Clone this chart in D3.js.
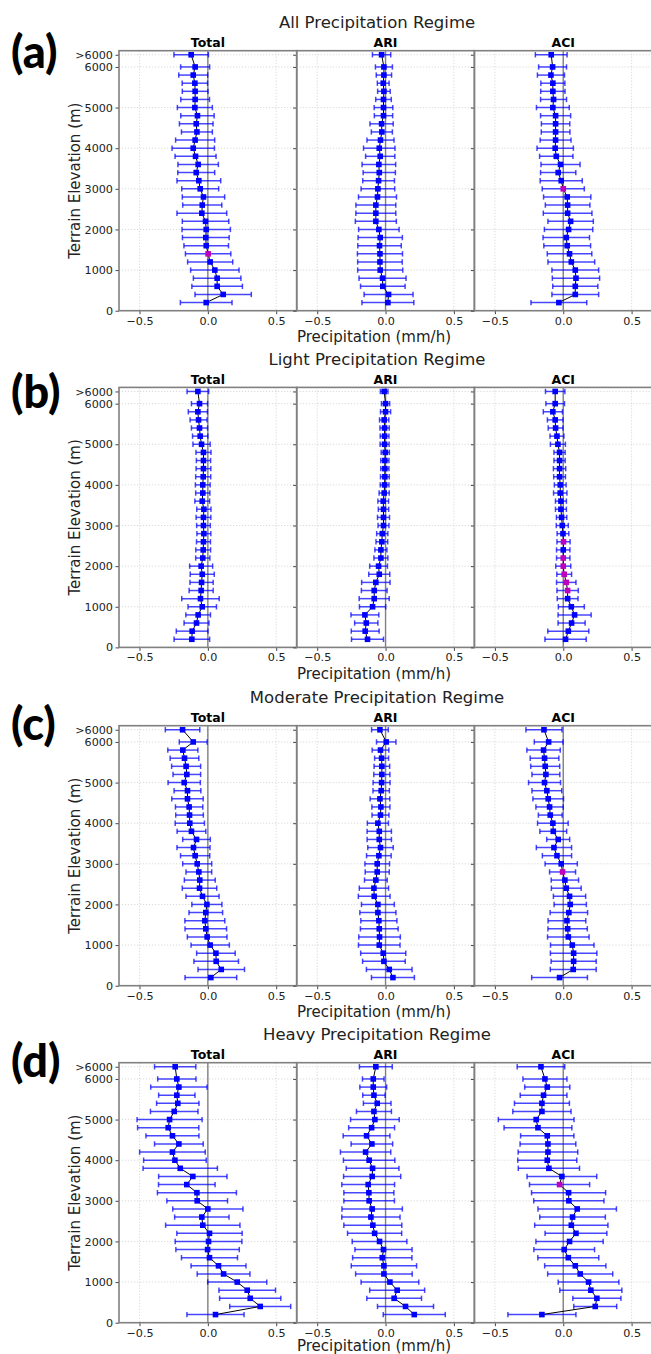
<!DOCTYPE html>
<html><head><meta charset="utf-8">
<script src="https://cdn.jsdelivr.net/npm/d3@7"></script>
<style>
html,body{margin:0;padding:0;background:#fff;}
svg{display:block;}
</style></head>
<body>
<script>
// ---------------- DATA ----------------
const elevations = [6300,6000,5800,5600,5400,5200,5000,4800,4600,4400,4200,4000,3800,3600,3400,3200,3000,2800,2600,2400,2200,2000,1800,1600,1400,1200,1000,800,600,400,200];
const yTickValues = [0,1000,2000,3000,4000,5000,6000,6300];
const yTickLabels = ["0","1000","2000","3000","4000","5000","6000",">6000"];
const xTickValues = [-0.5,0,0.5];
const regimeTitles = ["All Precipitation Regime","Light Precipitation Regime","Moderate Precipitation Regime","Heavy Precipitation Regime"];
const panelLetters = ["(a)","(b)","(c)","(d)"];
const components = ["Total","ARI","ACI"];

const allTotalMean = [-0.122,-0.093,-0.107,-0.095,-0.093,-0.093,-0.095,-0.076,-0.085,-0.080,-0.093,-0.107,-0.090,-0.071,-0.085,-0.066,-0.056,-0.032,-0.041,-0.044,-0.017,-0.012,-0.015,-0.012,0.002,0.017,0.051,0.068,0.068,0.112,-0.012];
const allTotalErr  = [0.126,0.106,0.106,0.093,0.094,0.105,0.128,0.122,0.123,0.113,0.143,0.155,0.150,0.148,0.135,0.160,0.135,0.155,0.143,0.182,0.170,0.177,0.171,0.163,0.166,0.165,0.177,0.174,0.185,0.206,0.189];
const allAriMean   = [-0.029,-0.012,-0.012,-0.017,-0.012,-0.015,-0.015,-0.015,-0.029,-0.027,-0.037,-0.046,-0.039,-0.049,-0.046,-0.051,-0.056,-0.059,-0.071,-0.071,-0.071,-0.049,-0.039,-0.044,-0.041,-0.041,-0.039,-0.022,-0.020,0.022,0.017];
const allAriErr    = [0.067,0.062,0.056,0.043,0.046,0.057,0.068,0.067,0.085,0.077,0.099,0.115,0.107,0.123,0.118,0.116,0.123,0.139,0.146,0.146,0.150,0.148,0.162,0.159,0.165,0.163,0.165,0.172,0.163,0.179,0.190];
const allAciMean   = [-0.088,-0.078,-0.090,-0.076,-0.076,-0.071,-0.076,-0.056,-0.056,-0.056,-0.056,-0.059,-0.051,-0.020,-0.037,-0.015,0.000,0.029,0.032,0.032,0.054,0.039,0.022,0.029,0.046,0.059,0.088,0.093,0.088,0.088,-0.032];
const allAciErr    = [0.116,0.102,0.099,0.088,0.089,0.095,0.120,0.110,0.104,0.105,0.113,0.133,0.122,0.143,0.129,0.154,0.154,0.173,0.163,0.178,0.166,0.177,0.170,0.171,0.163,0.171,0.171,0.173,0.165,0.171,0.204];

const lightTotalMean = [-0.073,-0.061,-0.073,-0.068,-0.061,-0.056,-0.046,-0.032,-0.032,-0.032,-0.034,-0.037,-0.037,-0.041,-0.029,-0.032,-0.032,-0.029,-0.032,-0.034,-0.037,-0.049,-0.041,-0.046,-0.049,-0.054,-0.041,-0.071,-0.083,-0.115,-0.117];
const lightTotalErr  = [0.079,0.059,0.070,0.062,0.059,0.056,0.063,0.055,0.052,0.054,0.055,0.054,0.052,0.054,0.052,0.054,0.050,0.051,0.051,0.054,0.052,0.084,0.088,0.085,0.088,0.137,0.104,0.090,0.091,0.116,0.130];
const lightAriMean   = [-0.010,0.000,0.000,-0.010,-0.007,-0.007,-0.007,-0.002,-0.005,-0.005,-0.005,-0.007,-0.010,-0.017,-0.015,-0.015,-0.015,-0.024,-0.027,-0.034,-0.034,-0.051,-0.046,-0.071,-0.083,-0.083,-0.095,-0.151,-0.141,-0.149,-0.132];
const lightAriErr    = [0.028,0.030,0.037,0.034,0.034,0.032,0.033,0.030,0.030,0.030,0.032,0.032,0.037,0.039,0.038,0.044,0.040,0.041,0.043,0.044,0.051,0.065,0.077,0.104,0.094,0.110,0.096,0.102,0.085,0.102,0.117];
const lightAciMean   = [-0.059,-0.059,-0.076,-0.059,-0.056,-0.046,-0.039,-0.027,-0.027,-0.027,-0.027,-0.022,-0.022,-0.017,-0.017,-0.012,-0.007,-0.002,0.002,0.000,0.000,0.000,0.007,0.022,0.032,0.032,0.059,0.083,0.061,0.037,0.017];
const lightAciErr    = [0.071,0.068,0.070,0.057,0.054,0.051,0.055,0.041,0.041,0.045,0.043,0.043,0.049,0.040,0.040,0.038,0.044,0.043,0.048,0.049,0.049,0.055,0.054,0.071,0.078,0.076,0.095,0.121,0.099,0.150,0.151];

const modTotalMean = [-0.185,-0.107,-0.183,-0.171,-0.159,-0.154,-0.173,-0.149,-0.149,-0.137,-0.134,-0.132,-0.120,-0.083,-0.105,-0.093,-0.078,-0.066,-0.059,-0.061,-0.039,-0.007,-0.015,-0.022,-0.015,-0.005,0.017,0.059,0.061,0.098,0.022];
const modTotalErr  = [0.126,0.102,0.110,0.105,0.106,0.101,0.118,0.098,0.115,0.100,0.101,0.107,0.105,0.101,0.121,0.107,0.106,0.094,0.113,0.126,0.121,0.110,0.123,0.146,0.152,0.145,0.140,0.141,0.163,0.170,0.189];
const modAriMean   = [-0.041,0.005,-0.037,-0.029,-0.027,-0.027,-0.029,-0.032,-0.041,-0.034,-0.037,-0.056,-0.046,-0.046,-0.037,-0.049,-0.061,-0.061,-0.071,-0.085,-0.083,-0.056,-0.056,-0.049,-0.046,-0.044,-0.046,-0.017,-0.012,0.027,0.054];
const modAriErr    = [0.061,0.071,0.061,0.051,0.057,0.059,0.062,0.060,0.072,0.066,0.062,0.077,0.089,0.089,0.093,0.090,0.090,0.088,0.083,0.107,0.116,0.120,0.132,0.132,0.138,0.152,0.152,0.165,0.156,0.167,0.157];
const modAciMean   = [-0.141,-0.107,-0.144,-0.137,-0.132,-0.127,-0.137,-0.120,-0.110,-0.100,-0.095,-0.076,-0.073,-0.037,-0.068,-0.046,-0.015,-0.005,0.012,0.022,0.046,0.051,0.041,0.027,0.032,0.037,0.066,0.076,0.076,0.073,-0.027];
const modAciErr    = [0.132,0.105,0.122,0.105,0.106,0.102,0.117,0.109,0.112,0.100,0.087,0.112,0.098,0.084,0.129,0.107,0.118,0.095,0.100,0.109,0.118,0.118,0.137,0.138,0.144,0.152,0.159,0.170,0.165,0.168,0.204];

const heavyTotalMean = [-0.239,-0.227,-0.212,-0.227,-0.220,-0.246,-0.280,-0.290,-0.259,-0.212,-0.259,-0.241,-0.202,-0.110,-0.154,-0.080,-0.078,0.000,-0.044,-0.037,0.012,0.005,-0.002,0.012,0.078,0.115,0.215,0.288,0.310,0.383,0.056];
const heavyTotalErr  = [0.151,0.140,0.206,0.133,0.155,0.174,0.238,0.224,0.194,0.178,0.240,0.229,0.272,0.250,0.207,0.289,0.222,0.257,0.199,0.272,0.239,0.244,0.232,0.205,0.201,0.193,0.216,0.207,0.224,0.223,0.209];
const heavyAriMean   = [-0.071,-0.090,-0.090,-0.085,-0.061,-0.085,-0.078,-0.102,-0.139,-0.100,-0.146,-0.120,-0.095,-0.098,-0.127,-0.122,-0.120,-0.098,-0.107,-0.093,-0.080,-0.044,-0.015,-0.024,-0.012,-0.012,0.032,0.085,0.063,0.146,0.210];
const heavyAriErr    = [0.120,0.079,0.098,0.082,0.101,0.128,0.178,0.168,0.171,0.152,0.184,0.188,0.193,0.209,0.193,0.183,0.185,0.221,0.213,0.212,0.198,0.200,0.209,0.217,0.239,0.207,0.211,0.201,0.200,0.205,0.227];
const heavyAciMean   = [-0.163,-0.134,-0.117,-0.144,-0.156,-0.156,-0.198,-0.185,-0.117,-0.112,-0.112,-0.117,-0.105,-0.010,-0.027,0.039,0.041,0.102,0.068,0.059,0.093,0.046,0.007,0.037,0.088,0.124,0.185,0.202,0.246,0.234,-0.156];
const heavyAciErr    = [0.174,0.161,0.165,0.171,0.201,0.213,0.277,0.248,0.195,0.204,0.218,0.216,0.224,0.255,0.220,0.271,0.257,0.287,0.240,0.268,0.226,0.246,0.222,0.223,0.224,0.238,0.222,0.227,0.176,0.157,0.249];

// elevations whose marker is drawn in magenta, per panel: [Total, ARI, ACI]
const allHighlight   = [[1400],[],[3000]];
const lightHighlight = [[],[],[2600,2200,2000,1800,1600,1400]];
const modHighlight   = [[],[],[2800]];
const heavyHighlight = [[],[],[3400]];

const panelSeries = [
  [[allTotalMean,allTotalErr],[allAriMean,allAriErr],[allAciMean,allAciErr]],
  [[lightTotalMean,lightTotalErr],[lightAriMean,lightAriErr],[lightAciMean,lightAciErr]],
  [[modTotalMean,modTotalErr],[modAriMean,modAriErr],[modAciMean,modAciErr]],
  [[heavyTotalMean,heavyTotalErr],[heavyAriMean,heavyAriErr],[heavyAciMean,heavyAciErr]]
];
const panelHighlights = [allHighlight, lightHighlight, modHighlight, heavyHighlight];

// ---------------- LAYOUT ----------------
const W = 651, H = 1354;
const panelTops = [50.7, 387.4, 725.7, 1062.7];
const plotH = 260;
const plotLeft = 119;
const subW = 177.7;
const letterPos = [[11,68],[11,408],[11,740],[11,1077]];
const xLabelOffset = [26.5, 26.5, 26.5, 23.5];
const FONT = "'DejaVu Sans', sans-serif";

const svg = d3.select("body").append("svg").attr("width",W).attr("height",H);
svg.append("rect").attr("width",W).attr("height",H).attr("fill","#fff");

panelSeries.forEach((series, pi) => {
  const T = panelTops[pi], B = T + plotH;
  const y = d3.scaleLinear().domain([0,6400]).range([B,T]);

  // panel letter
  svg.append("text").attr("x",letterPos[pi][0]).attr("y",letterPos[pi][1])
    .style("font-family","Lato, 'Open Sans', sans-serif").style("font-weight","900")
    .style("font-size","45px").attr("fill","#000").text(panelLetters[pi]);

  // regime title
  svg.append("text").attr("x",377).attr("y",T-28).attr("text-anchor","middle")
    .attr("dominant-baseline","central").style("font-family",FONT).style("font-size","16.5px").attr("fill","#222")
    .text(regimeTitles[pi]);

  // y label
  svg.append("text").attr("transform",`translate(75,${(T+B)/2}) rotate(-90)`)
    .attr("text-anchor","middle").attr("dominant-baseline","central")
    .style("font-family",FONT).style("font-size","15px").attr("fill","#222").text("Terrain Elevation (m)");

  // x label
  svg.append("text").attr("x",374).attr("y",B+xLabelOffset[pi]).attr("text-anchor","middle")
    .attr("dominant-baseline","central").style("font-family",FONT).style("font-size","15px").attr("fill","#222")
    .text("Precipitation (mm/h)");

  components.forEach((comp, ci) => {
    const L = plotLeft + ci*subW, R = L + subW;
    const x = d3.scaleLinear().domain([-0.65,0.65]).range([L,R]);
    const g = svg.append("g");
    const [means, errs] = series[ci];
    const hl = panelHighlights[pi][ci];

    // grid
    g.selectAll(".gx").data(xTickValues).enter().append("line")
      .attr("x1",d=>x(d)).attr("x2",d=>x(d)).attr("y1",T).attr("y2",B)
      .attr("stroke","#cfcfcf").attr("stroke-width",0.8).attr("stroke-dasharray","1.2,1.8");
    g.selectAll(".gy").data(yTickValues).enter().append("line")
      .attr("x1",L).attr("x2",R).attr("y1",d=>y(d)).attr("y2",d=>y(d))
      .attr("stroke","#cfcfcf").attr("stroke-width",0.8).attr("stroke-dasharray","1.2,1.8");

    // zero line
    g.append("line").attr("x1",x(0)).attr("x2",x(0)).attr("y1",T).attr("y2",B)
      .attr("stroke","#808080").attr("stroke-width",1.4);

    // axes
    const xAxis = d3.axisBottom(x).tickValues(xTickValues).tickSize(3.5).tickPadding(2.5)
      .tickFormat(d => d3.format(".1f")(d).replace("-","\u2212"));
    const ax = g.append("g").attr("transform",`translate(0,${B})`).call(xAxis);
    ax.select(".domain").remove();
    ax.selectAll("line").attr("stroke","#444");
    ax.selectAll("text").style("font-size","11.2px").attr("fill","#222").style("font-family",FONT);

    const yAxis = d3.axisLeft(y).tickValues(yTickValues).tickSize(3.5).tickPadding(2.5)
      .tickFormat((d,i) => ci === 0 ? yTickLabels[i] : "");
    const ay = g.append("g").attr("transform",`translate(${L},0)`).call(yAxis);
    ay.select(".domain").remove();
    ay.selectAll("line").attr("stroke","#444");
    ay.selectAll("text").style("font-size","11.2px").attr("fill","#222").style("font-family",FONT);

    // spines
    g.append("rect").attr("x",L).attr("y",T).attr("width",subW).attr("height",plotH)
      .attr("fill","none").attr("stroke","#808080").attr("stroke-width",1.6);

    // subplot title
    g.append("text").attr("x",(L+R)/2).attr("y",T-8).attr("text-anchor","middle")
      .attr("dominant-baseline","central").style("font-family",FONT).style("font-weight","bold").style("font-size","12.5px")
      .attr("fill","#000").text(comp);

    const pts = elevations.map((e,i) => ({e, m: means[i], s: errs[i]}));

    // error bars
    const eb = g.append("g").attr("stroke","#0000ff").attr("stroke-opacity",0.72).attr("stroke-width",1.5);
    eb.selectAll(".h").data(pts).enter().append("line")
      .attr("x1",d=>x(d.m-d.s)).attr("x2",d=>x(d.m+d.s)).attr("y1",d=>y(d.e)).attr("y2",d=>y(d.e));
    eb.selectAll(".cl").data(pts).enter().append("line")
      .attr("x1",d=>x(d.m-d.s)).attr("x2",d=>x(d.m-d.s)).attr("y1",d=>y(d.e)-2.7).attr("y2",d=>y(d.e)+2.7);
    eb.selectAll(".cr").data(pts).enter().append("line")
      .attr("x1",d=>x(d.m+d.s)).attr("x2",d=>x(d.m+d.s)).attr("y1",d=>y(d.e)-2.7).attr("y2",d=>y(d.e)+2.7);

    // connecting line
    g.append("path").datum(pts)
      .attr("d", d3.line().x(d=>x(d.m)).y(d=>y(d.e)))
      .attr("fill","none").attr("stroke","#000").attr("stroke-width",1);

    // markers
    const ms = 5.6;
    g.selectAll(".mk").data(pts).enter().append("rect")
      .attr("x",d=>x(d.m)-ms/2).attr("y",d=>y(d.e)-ms/2).attr("width",ms).attr("height",ms)
      .attr("fill",d => hl.includes(d.e) ? "#bf00bf" : "#0000ff");
  });
});
</script>
</body></html>
